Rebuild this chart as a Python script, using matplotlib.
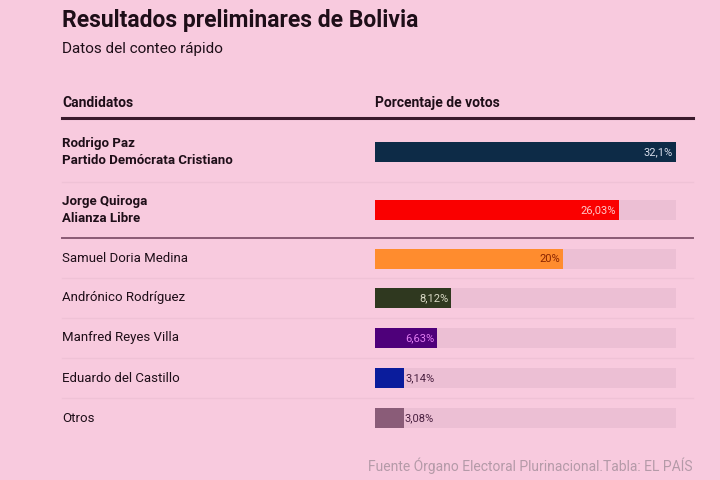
import matplotlib.pyplot as plt

plt.rcParams['font.family'] = ['Roboto', 'DejaVu Sans']

# datos del conteo rápido
nombres = ["Rodrigo Paz", "Jorge Quiroga", "Samuel Doria Medina", "Andrónico Rodríguez",
           "Manfred Reyes Villa", "Eduardo del Castillo", "Otros"]
partidos = ["Partido Demócrata Cristiano", "Alianza Libre", "", "", "", "", ""]
votos = [32.1, 26.03, 20, 8.12, 6.63, 3.14, 3.08]
etiquetas = ["32,1%", "26,03%", "20%", "8,12%", "6,63%", "3,14%", "3,08%"]
colores = ["#0d2b47", "#fa0000", "#ff8c2e", "#2f381f", "#4e007a", "#0a1c9c", "#8a5c78"]
col_etiq = ["#d6dcea", "#ffc8c8", "#8a2400", "#d8d8c4", "#e07cf2", "#4a2040", "#4a2040"]

fondo = "#f8cade"
pista = "#ecbfd4"
texto = "#1e0e18"

fig = plt.figure(figsize=(7.2, 4.8), dpi=100, facecolor=fondo)

# capa de fondo en píxeles
bg = fig.add_axes([0, 0, 1, 1])
bg.set_xlim(0, 720)
bg.set_ylim(480, 0)
bg.axis("off")

bg.text(62, 21, "Resultados preliminares de Bolivia", fontsize=16.5, fontweight="bold",
        color=texto, va="center")
bg.text(62, 49, "Datos del conteo rápido", fontsize=11, color=texto, va="center")
bg.text(62, 103, "Candidatos", fontsize=10, fontweight="bold", color=texto, va="center")
bg.text(375, 103, "Porcentaje de votos", fontsize=10, fontweight="bold", color=texto, va="center")
bg.plot([62, 693], [118, 118], color="#3a1a2c", lw=2.2)
bg.plot([62, 693], [238, 238], color="#8a5a74", lw=1.4)
for y in [182, 278, 318, 358, 398]:
    bg.plot([62, 693], [y, y], color="#efc2d6", lw=1)

filas = [152, 210, 259, 298, 338, 378, 418]
for i, (n, p) in enumerate(zip(nombres, partidos)):
    if p:
        bg.text(62, filas[i] - 8, n, fontsize=9.5, fontweight="bold", color=texto, va="center")
        bg.text(62, filas[i] + 9, p, fontsize=9.5, fontweight="bold", color=texto, va="center")
    else:
        bg.text(62, filas[i], n, fontsize=9.5, color=texto, va="center")

bg.text(693, 466, "Fuente Órgano Electoral Plurinacional.Tabla: EL PAÍS", fontsize=10,
        color="#b49aa8", ha="right", va="center")

# barras
ax = fig.add_axes([375 / 720, 0, (676 - 375) / 720, 1])
ax.set_xlim(0, max(votos))
ax.set_ylim(480, 0)
ax.axis("off")
ax.patch.set_alpha(0)
ax.barh(filas, [max(votos)] * len(votos), height=20, color=pista)
ax.barh(filas, votos, height=20, color=colores)
for i, v in enumerate(votos):
    if v > 5:
        ax.text(v - 0.3, filas[i], etiquetas[i], fontsize=8, color=col_etiq[i],
                ha="right", va="center")
    else:
        ax.text(v + 0.1, filas[i], etiquetas[i], fontsize=8, color=col_etiq[i],
                ha="left", va="center")

fig.savefig("out.png", dpi=100, facecolor=fondo)
